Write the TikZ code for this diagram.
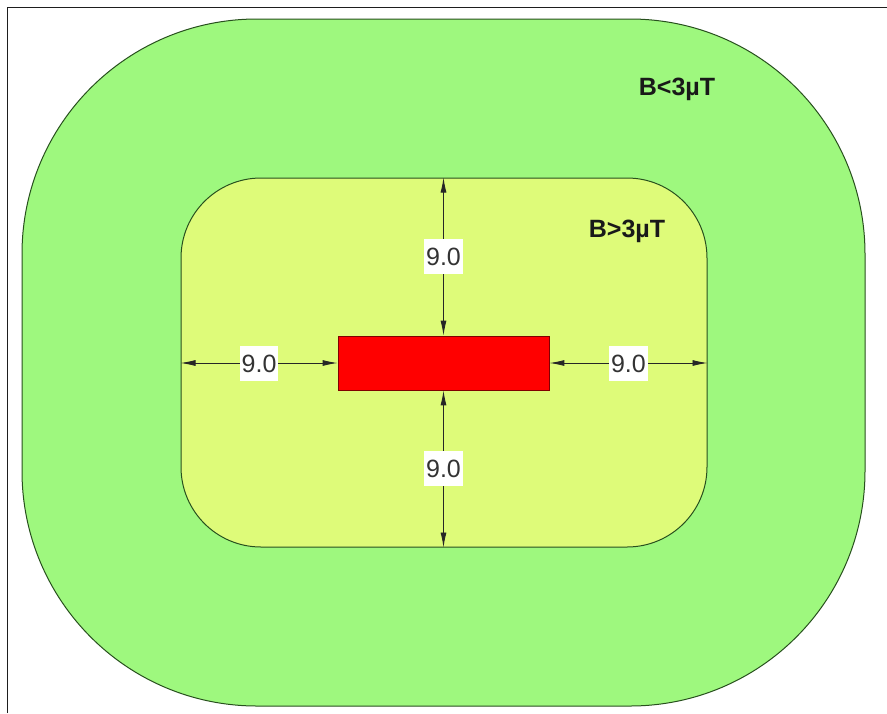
\documentclass[tikz,border=0pt]{standalone}
\usepackage{fontspec}
\setmainfont{Liberation Sans}
\usetikzlibrary{arrows.meta}
\definecolor{zonegreen}{RGB}{158,248,126}
\definecolor{zoneyellow}{RGB}{222,251,121}
\definecolor{edgegreen}{RGB}{40,80,30}
\definecolor{framegray}{RGB}{30,30,30}
\tikzset{
  zone/.style={draw=edgegreen, line width=1pt, inner sep=0pt},
  dim/.style={draw=black!85, line width=0.9pt, {Latex[length=15pt,width=6pt]}-{Latex[length=15pt,width=6pt]}},
  lbl/.style={fill=white, inner xsep=2pt, inner ysep=8.5pt, text height=18pt, text depth=0pt,
    font=\fontsize{25}{30}\selectfont, text=black!80},
  zonelbl/.style={font=\fontsize{25}{30}\selectfont\bfseries, text=black!90, inner sep=0pt}
}
\begin{document}
\begin{tikzpicture}[x=1pt,y=-1pt]
\useasboundingbox (0,0) rectangle (887,713);
\fill[white] (0,0) rectangle (887,713);
\coordinate (fb) at (7.5,713);
\coordinate (ftl) at (7.5,7.5);
\coordinate (fr) at (887,7.5);
\draw[framegray, line width=1.8pt] (fb) -- (ftl) -- (fr);
\node[zone, fill=zonegreen, rounded corners=235pt, minimum width=843pt, minimum height=687pt] (outer) at (443.5,362.5) {};
\node[zone, fill=zoneyellow, rounded corners=80pt, minimum width=526pt, minimum height=369pt] (inner) at (444,362.5) {};
\node[draw=red!50!black, line width=0.8pt, fill=red, minimum width=211pt, minimum height=54pt, inner sep=0pt] (src) at (443.5,363) {};
\node[zonelbl] (lo) at (677,89) {B<3µT};
\node[zonelbl] (hi) at (627,231) {B>3µT};
\draw[dim] (inner.west |- src.west) -- node[lbl]{9.0} (src.west);
\draw[dim] (src.east) -- node[lbl]{9.0} (inner.east |- src.east);
\draw[dim] (inner.north -| src.north) -- node[lbl]{9.0} (src.north);
\draw[dim] (src.south) -- node[lbl]{9.0} (inner.south -| src.south);
\end{tikzpicture}
\end{document}
